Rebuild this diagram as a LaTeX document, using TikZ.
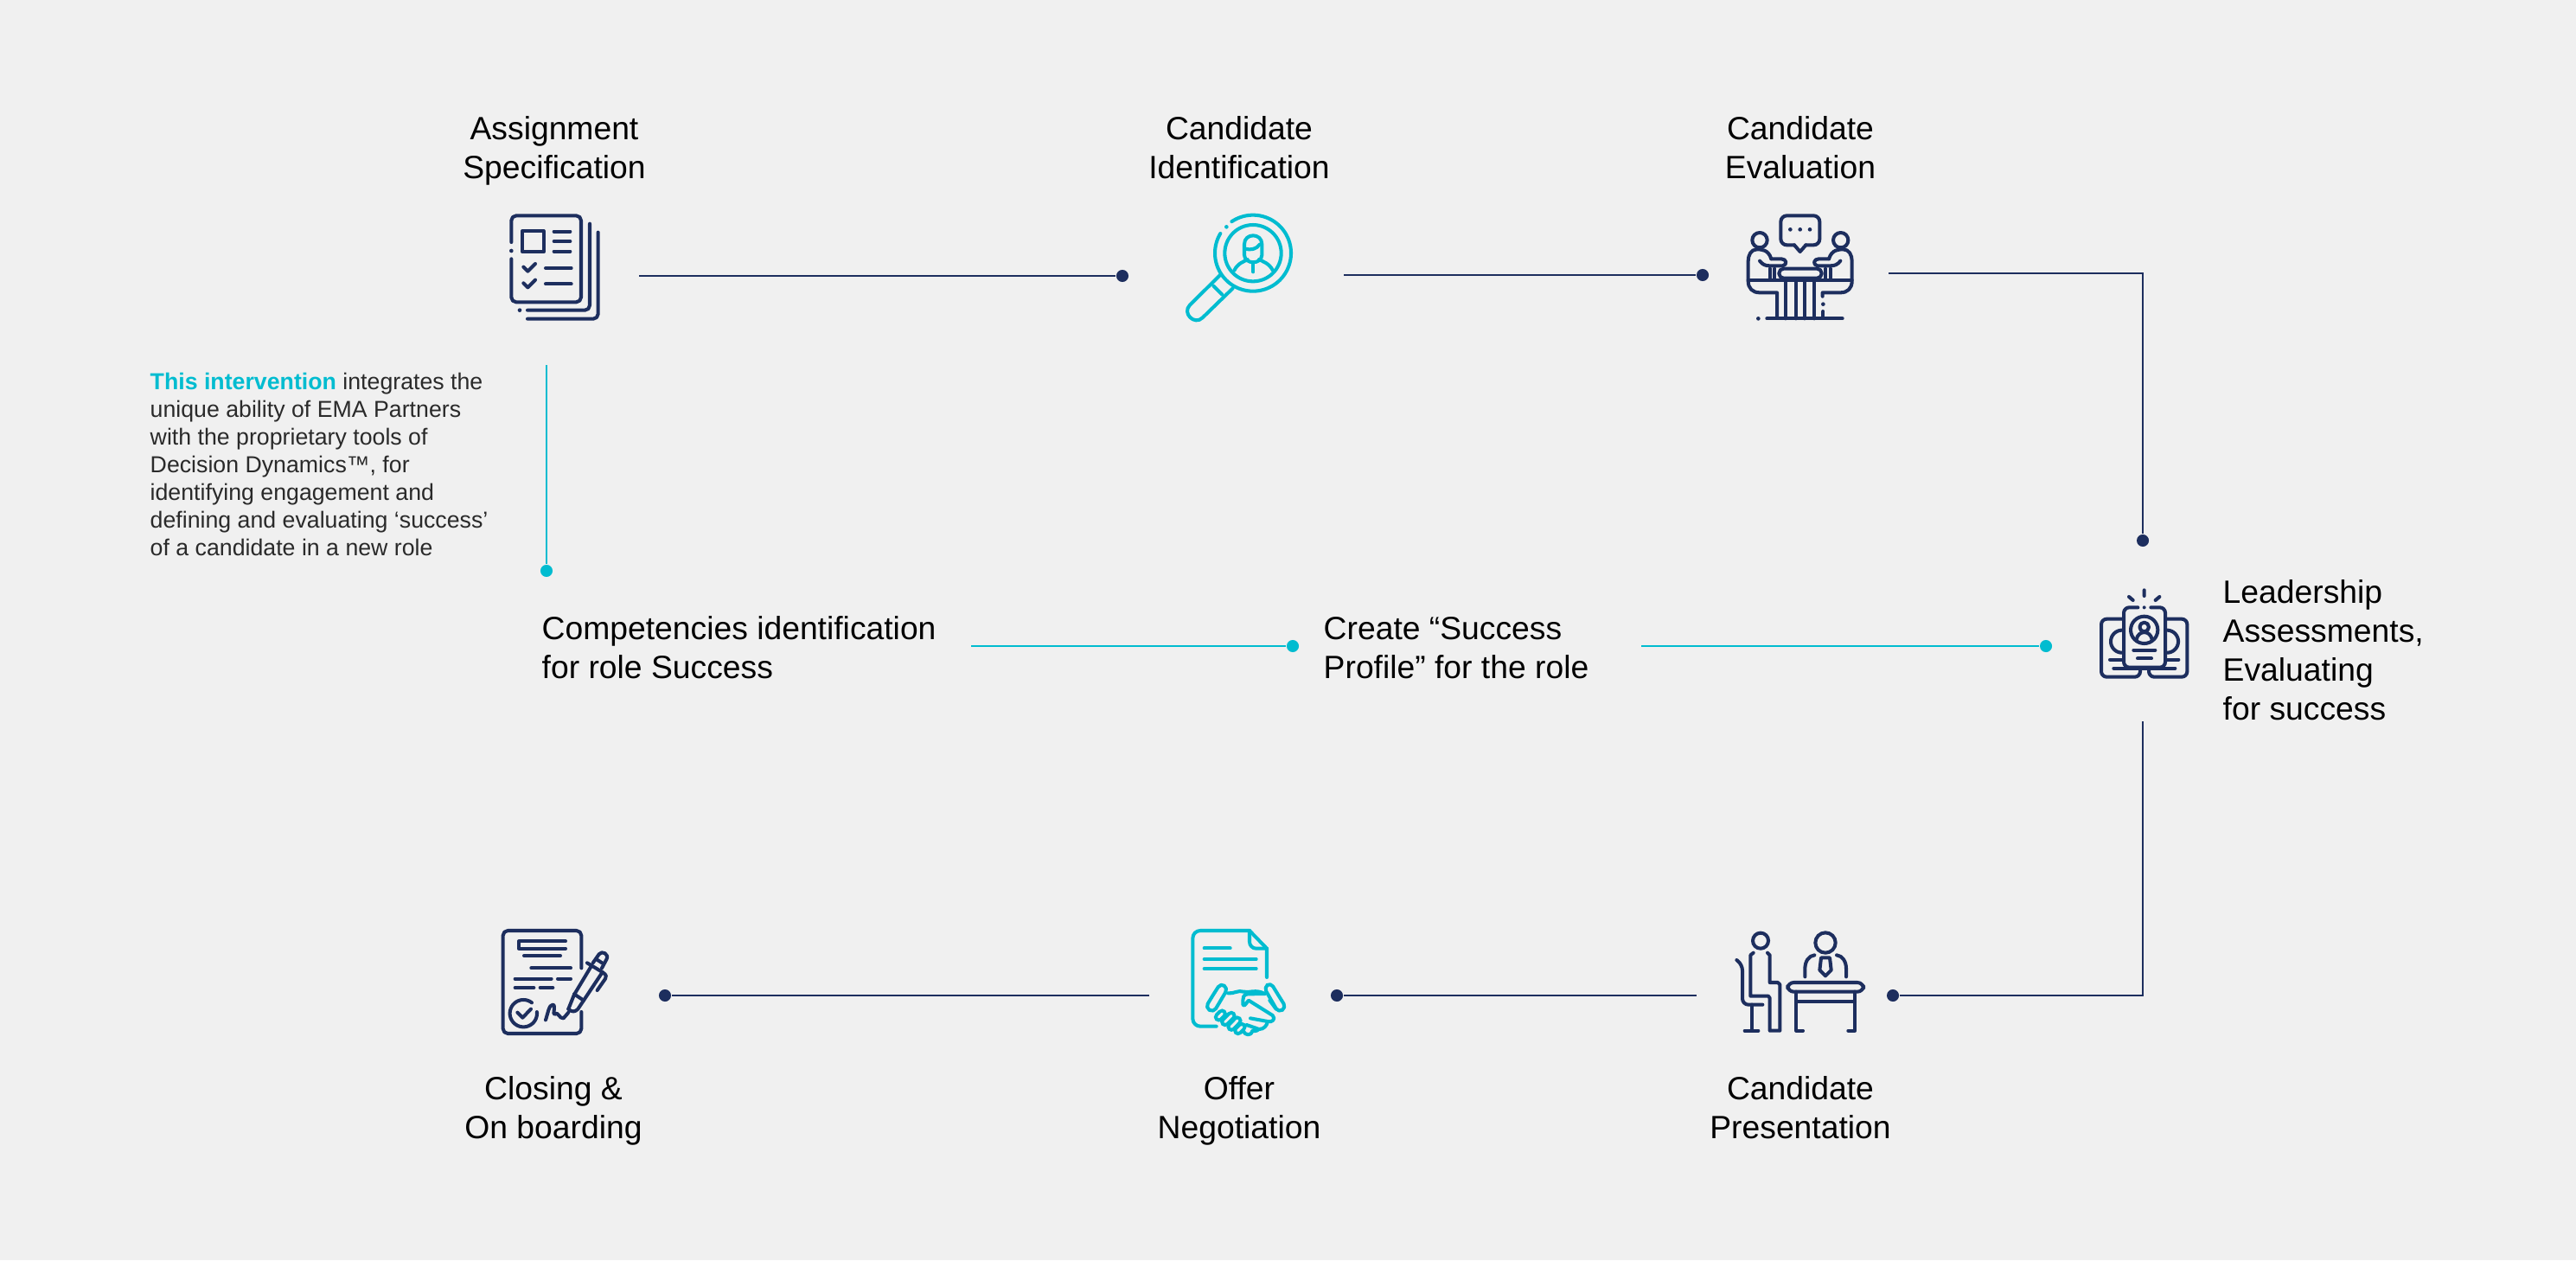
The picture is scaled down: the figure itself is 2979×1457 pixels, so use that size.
\documentclass[tikz,border=0pt]{standalone}
\usepackage{fontspec}
\setmainfont{Liberation Sans}
\definecolor{bgc}{HTML}{F0F0F0}
\definecolor{navy}{HTML}{1D2E5E}
\definecolor{teal}{HTML}{00BCD0}
\definecolor{note}{HTML}{2A2A2A}
\newcommand{\zarc}[5]{plot[domain=#4:#5,samples=140] ({#1+#2*cos(\x)},{#3+#2*sin(\x)})}
\tikzset{
  lab/.style={inner sep=0pt,text=black,font=\fontsize{10.6}{12.75}\selectfont},
  labc/.style={lab,align=center,anchor=base},
  labl/.style={lab,align=left,anchor=base west},
  notetext/.style={inner sep=0pt,text=note,align=left,anchor=base west,font=\fontsize{7.6}{9.1}\selectfont},
  dotnavy/.style={circle,fill=navy,inner sep=0pt,minimum size=4pt},
  dotteal/.style={circle,fill=teal,inner sep=0pt,minimum size=4pt},
  linknavy/.style={draw=navy,line width=0.38pt},
  linkteal/.style={draw=teal,line width=0.38pt},
  ic/.style={line width=1.15pt,line cap=round,line join=round},
  icn/.style={ic,draw=navy},
  ict/.style={ic,draw=teal},
  zoomed/.style={shift={#1},scale=1/3},
  fingerout/.style={draw=teal,line width=3.2pt,line cap=round},
  fingerin/.style={draw=bgc,line width=0.85pt,line cap=round}
}
\begin{document}
\begin{tikzpicture}[x=0.01cm,y=-0.01cm]
\fill[bgc] (0,0) rectangle (2979,1457);

% ---------- labels
\node[labc] (t1) at (641,206) {Assignment\\Specification};
\node[labc] (t2) at (1433,206) {Candidate\\Identification};
\node[labc] (t3) at (2082,206) {Candidate\\Evaluation};
\node[labl] (t4) at (626,784) {Competencies identification\\for role Success};
\node[labl] (t5) at (1530,784) {Create “Success\\Profile” for the role};
\node[labl] (t6) at (2570,832) {Leadership\\Assessments,\\Evaluating\\for success};
\node[labc] (t7) at (2082,1316) {Candidate\\Presentation};
\node[labc] (t8) at (1433,1316) {Offer\\Negotiation};
\node[labc] (t9) at (640,1316) {Closing \&\\On boarding};
\node[notetext] (note) at (173,642) {{\bfseries\color{teal}This intervention} integrates the\\unique ability of EMA Partners\\with the proprietary tools of\\Decision Dynamics™, for\\identifying engagement and\\defining and evaluating ‘success’\\of a candidate in a new role};

% ---------- connector ends
\node[dotnavy] (d1) at (1298,319) {};
\node[dotnavy] (d2) at (1969,318) {};
\node[dotnavy] (d3) at (2478,625) {};
\node[dotteal] (d4) at (632,660) {};
\node[dotteal] (d5) at (1495,747) {};
\node[dotteal] (d6) at (2366,747) {};
\node[dotnavy] (d7) at (2189,1151) {};
\node[dotnavy] (d8) at (1546,1151) {};
\node[dotnavy] (d9) at (769,1151) {};
\coordinate (s1) at (739,319);
\coordinate (s2) at (1554,318);
\coordinate (s3) at (2184,316);
\coordinate (b3) at (2478,316);
\coordinate (s4) at (632,422);
\coordinate (s5) at (1123,747);
\coordinate (s6) at (1898,747);
\coordinate (s7) at (2478,834);
\coordinate (b7) at (2478,1151);
\coordinate (s8) at (1962,1151);
\coordinate (s9) at (1329,1151);

\draw[linknavy] (s1) -- (d1);
\draw[linknavy] (s2) -- (d2);
\draw[linknavy] (s3) -- (b3) -- (d3);
\draw[linkteal] (s4) -- (d4);
\draw[linkteal] (s5) -- (d5);
\draw[linkteal] (s6) -- (d6);
\draw[linknavy] (s7) -- (b7) -- (d7);
\draw[linknavy] (s8) -- (d8);
\draw[linknavy] (s9) -- (d9);

% ---------- icon 1: documents
\begin{scope}[zoomed={(520,100)}]
\draw[icn,rounded corners=1.6pt] (214,540) -- (214,448) -- (456,448) -- (456,748) -- (214,748) -- (214,598);
\fill[navy] (214,570) circle[radius=7];
\draw[icn] (253,501) rectangle (326,574);
\draw[icn] (362,503) -- (418,503) (362,537) -- (418,537) (362,572) -- (418,572);
\draw[icn] (256,626) -- (271,641) -- (297,615) (256,682) -- (271,697) -- (297,671);
\draw[icn] (333,630) -- (422,630) (333,685) -- (422,685);
\draw[icn,rounded corners=1.6pt] (486,476) -- (486,776) -- (270,776);
\draw[icn,rounded corners=1.6pt] (515,506) -- (515,806) -- (270,806);
\fill[navy] (243,776) circle[radius=7];
\end{scope}

% ---------- icon 2: magnifier
\begin{scope}[zoomed={(1320,220)}]
\draw[ict] \zarc{387}{132}{218}{236}{571};
\fill[teal] (295,127) circle[radius=7];
\draw[ict] (387,218) circle[radius=98];
\draw[ict] (357,225) -- (357,187) .. controls (357,147) and (418,147) .. (418,187) -- (418,225) .. controls (416,258) and (359,258) .. (357,225);
\draw[ict] (359,203) .. controls (380,208) and (398,205) .. (410,188);
\draw[ict] (322,278) .. controls (335,252) and (355,248) .. (368,240);
\draw[ict] (408,240) .. controls (422,248) and (442,252) .. (456,278);
\draw[ict] (388,255) -- (388,283);
\draw[ict] (275,292) -- (168,398) .. controls (140,426) and (184,470) .. (212,442) -- (317,340);
\draw[ict] (250,332) -- (280,362);
\end{scope}

% ---------- icon 3: meeting
\begin{scope}[zoomed={(1980,220)}]
\draw[icn,rounded corners=2pt] (285,190) -- (238,190) -- (238,88) -- (373,88) -- (373,190) -- (325,190);
\draw[icn] (285,190) -- (305,213) -- (325,190);
\foreach \q in {271,305,339} \fill[navy] (\q,136) circle[radius=7];
\draw[icn] (165,173) circle[radius=26];
\draw[icn] (446,173) circle[radius=26];
\draw[icn] (205,238) .. controls (195,205) and (170,205) .. (155,205) .. controls (135,205) and (125,225) .. (125,245) -- (125,315) .. controls (125,340) and (140,355) .. (165,355) -- (225,355) -- (225,437);
\draw[icn] (405,238) .. controls (415,205) and (440,205) .. (455,205) .. controls (475,205) and (485,225) .. (485,245) -- (485,315) .. controls (485,340) and (470,355) .. (445,355) -- (383,355) -- (383,368);
\fill[navy] (385,395) circle[radius=7];
\draw[icn] (385,420) -- (385,437);
\draw[icn] (125,311) -- (485,311);
\draw[icn] (165,245) .. controls (175,258) and (185,262) .. (200,262) -- (245,262) .. controls (262,258) and (258,238) .. (240,238) -- (205,238);
\draw[icn] (445,245) .. controls (435,258) and (425,262) .. (410,262) -- (365,262) .. controls (348,258) and (352,238) .. (370,238) -- (405,238);
\draw[icn,rounded corners=1.5pt] (232,272) rectangle (380,305);
\draw[icn] (200,272) -- (200,311) (217,272) -- (217,311) (393,272) -- (393,311) (410,272) -- (410,311);
\draw[icn] (254,311) -- (254,445) (290,311) -- (290,445) (320,311) -- (320,445) (355,311) -- (355,445);
\draw[icn] (190,445) -- (452,445);
\fill[navy] (160,445) circle[radius=7];
\end{scope}

% ---------- icon 4: assessments
\begin{scope}[zoomed={(2380,660)}]
\draw[icn] (299,67) -- (299,87) (246,90) -- (260,102) (352,90) -- (338,102);
\draw[icn,rounded corners=1.8pt] (277,127) -- (228,127) -- (228,335) -- (372,335) -- (372,127) -- (322,127);
\fill[navy] (299,127) circle[radius=6];
\draw[icn,rounded corners=1.8pt] (222,167) -- (150,167) -- (150,368) -- (285,368) -- (285,340);
\draw[icn,rounded corners=1.8pt] (378,167) -- (448,167) -- (448,368) -- (315,368) -- (315,340);
\draw[icn] (299,205) circle[radius=47];
\draw[icn] (299,195) circle[radius=16];
\draw[icn] (272,238) .. controls (278,205) and (320,205) .. (326,238);
\draw[icn] (262,275) -- (337,275) (276,304) -- (324,304);
\draw[icn] \zarc{222}{39}{245}{-90}{-270};
\draw[icn] \zarc{378}{39}{245}{-90}{90};
\draw[icn] (180,308) -- (222,308) (378,308) -- (418,308) (193,338) -- (406,338);
\end{scope}

% ---------- icon 5: signing
\begin{scope}[zoomed={(540,1050)}]
\draw[icn,rounded corners=1.6pt] (397,208) -- (397,78) -- (125,78) -- (125,435) -- (397,435) -- (397,360);
\draw[icn] (342,115) -- (180,115) -- (180,140) -- (342,140);
\draw[icn] (198,165) -- (324,165) (223,208) -- (360,208) (167,245) -- (293,245) (315,245) -- (360,245) (167,276) -- (232,276) (254,276) -- (298,276);
\draw[icn] \zarc{196}{47}{365}{-6}{308};
\draw[icn] (175,362) -- (193,380) -- (222,350);
\draw[icn] (273,388) .. controls (282,360) and (285,335) .. (298,335) .. controls (310,335) and (295,375) .. (305,368) .. controls (315,355) and (320,385) .. (335,382) -- (352,362);
\draw[icn] (352,350) -- (372,300) -- (432,200);
\draw[icn] (352,350) .. controls (365,362) and (375,360) .. (385,350) -- (405,320) -- (372,298);
\draw[icn] (405,320) -- (470,222);
\draw[icn] (417,190) -- (470,222);
\draw[icn] (437,190) -- (458,160) .. controls (468,145) and (495,160) .. (484,178) -- (468,208);
\draw[icn] (450,178) -- (472,192);
\draw[icn] (470,222) .. controls (485,232) and (485,238) .. (480,245) -- (452,285);
\end{scope}

% ---------- icon 6: agreement
\begin{scope}[zoomed={(1350,1050)}]
\draw[ict,rounded corners=2.5pt] (170,410) -- (88,410) -- (88,78) -- (285,78);
\draw[ict] (285,78) -- (345,140) -- (345,240);
\draw[ict,rounded corners=2.2pt] (285,78) -- (285,140) -- (345,140);
\draw[ict] (128,139) -- (218,139) (128,177) -- (308,177) (128,210) -- (308,210);
\draw[ict,rounded corners=1.5pt] (158,302) -- (185,260) -- (210,278) -- (160,362) -- (132,345) -- cycle;
\draw[ict,rounded corners=1.5pt] (385,302) -- (412,345) -- (385,362) -- (335,275) -- (358,258) -- cycle;
\draw[ict] (210,295) .. controls (230,298) and (245,283) .. (265,290) .. controls (285,295) and (305,280) .. (338,297);
\draw[ict] (338,297) -- (280,298) .. controls (262,298) and (262,310) .. (262,335) .. controls (268,345) and (275,325) .. (282,320) -- (365,372) .. controls (378,385) and (362,398) .. (348,393) -- (288,382);
\draw[ict] (355,320) -- (377,350);
\draw[ict] (348,393) .. controls (345,408) and (335,420) .. (318,420) -- (275,405);
\draw[ict] (318,420) .. controls (305,430) and (300,425) .. (295,425) .. controls (290,445) and (270,442) .. (262,425);
\draw[fingerout] (178,378) -- (190,366);
\draw[fingerin] (178,378) -- (190,366);
\draw[fingerout] (200,395) -- (222,373);
\draw[fingerin] (200,395) -- (222,373);
\draw[fingerout] (222,412) -- (243,390);
\draw[fingerin] (222,412) -- (243,390);
\draw[fingerout] (245,425) -- (258,412);
\draw[fingerin] (245,425) -- (258,412);
\end{scope}

% ---------- icon 7: presentation
\begin{scope}[zoomed={(1980,1050)}]
\draw[icn] (168,113) circle[radius=27];
\draw[icn] (143,155) -- (133,163) -- (133,305) -- (195,305) -- (200,312) -- (200,425) -- (235,425) -- (235,265) -- (228,258) -- (200,258) -- (200,163) -- (192,155);
\draw[icn,rounded corners=2pt] (85,180) -- (105,195) -- (105,335) -- (175,335);
\draw[icn] (138,335) -- (138,425) (113,425) -- (160,425);
\draw[icn] (393,120) circle[radius=35];
\draw[icn] (355,163) .. controls (335,165) and (322,185) .. (322,210) -- (322,238);
\draw[icn] (432,163) .. controls (452,165) and (465,185) .. (465,210) -- (465,238);
\draw[icn] (378,172) -- (408,172) -- (413,215) -- (393,235) -- (373,215) -- cycle;
\draw[icn,rounded corners=2pt] (262,258) rectangle (525,290);
\draw[icn] (315,425) -- (292,425) -- (292,290) (472,425) -- (495,425) -- (495,290);
\draw[icn] (292,324) -- (495,324);
\end{scope}
\end{tikzpicture}
\end{document}
